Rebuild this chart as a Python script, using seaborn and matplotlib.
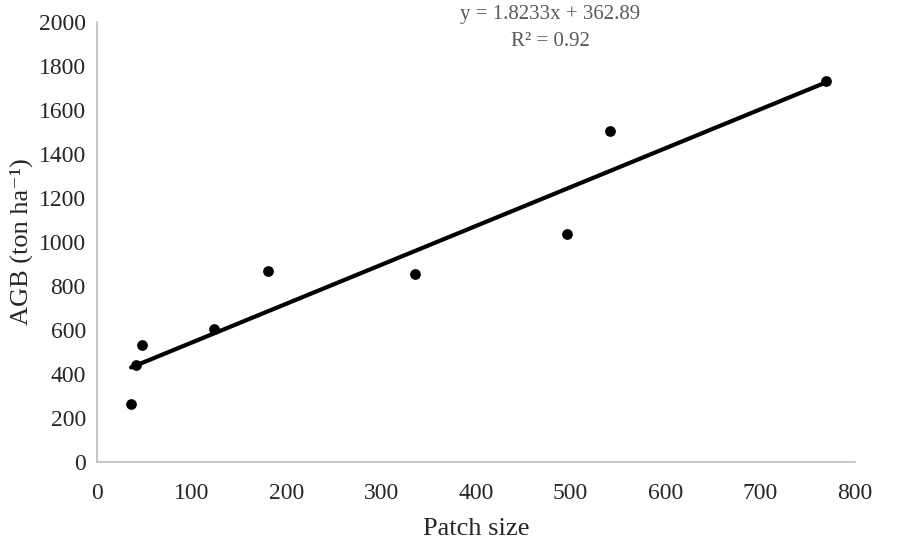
# AGB vs patch size scatter with linear trend line.

import pandas as pd
import seaborn as sns
import matplotlib.pyplot as plt

patch_size = [36, 41, 47, 124, 180, 336, 496, 541, 770]
agb = [264, 441, 532, 605, 868, 855, 1036, 1505, 1732]
x_ticks = [0, 100, 200, 300, 400, 500, 600, 700, 800]
y_ticks = [0, 200, 400, 600, 800, 1000, 1200, 1400, 1600, 1800, 2000]
eq_text = 'y = 1.8233x + 362.89\nR² = 0.92'

sns.set_style('white')
plt.rcParams['font.family'] = ['Liberation Serif', 'DejaVu Serif']

df = pd.DataFrame({'Patch size': patch_size, 'AGB': agb})

fig = plt.figure(figsize=(8.98, 5.45), dpi=100)
ax = fig.add_axes([0.108, 0.152, 0.844, 0.808])
sns.regplot(x='Patch size', y='AGB', data=df, ci=None, ax=ax,
            scatter_kws={'color': 'black', 's': 45, 'alpha': 1, 'zorder': 3},
            line_kws={'color': 'black', 'linewidth': 3})

ax.set_xlim(0, 800)
ax.set_ylim(0, 2000)
ax.set_xticks(x_ticks)
ax.set_yticks(y_ticks)
ax.tick_params(labelsize=17, length=0)
ax.tick_params(axis='y', pad=8)
ax.tick_params(axis='x', pad=15)
ax.set_xlabel('Patch size', fontsize=19, labelpad=10)
ax.set_ylabel('AGB (ton ha⁻¹)', fontsize=19, labelpad=4)
for s in ['top', 'right']:
    ax.spines[s].set_visible(False)
for s in ['left', 'bottom']:
    ax.spines[s].set_color('#bfbfbf')
    ax.spines[s].set_linewidth(1.2)

fig.text(0.613, 0.949, eq_text, ha='center', va='center', fontsize=15,
         color='#595959', linespacing=1.6)

plt.savefig('out.png')
